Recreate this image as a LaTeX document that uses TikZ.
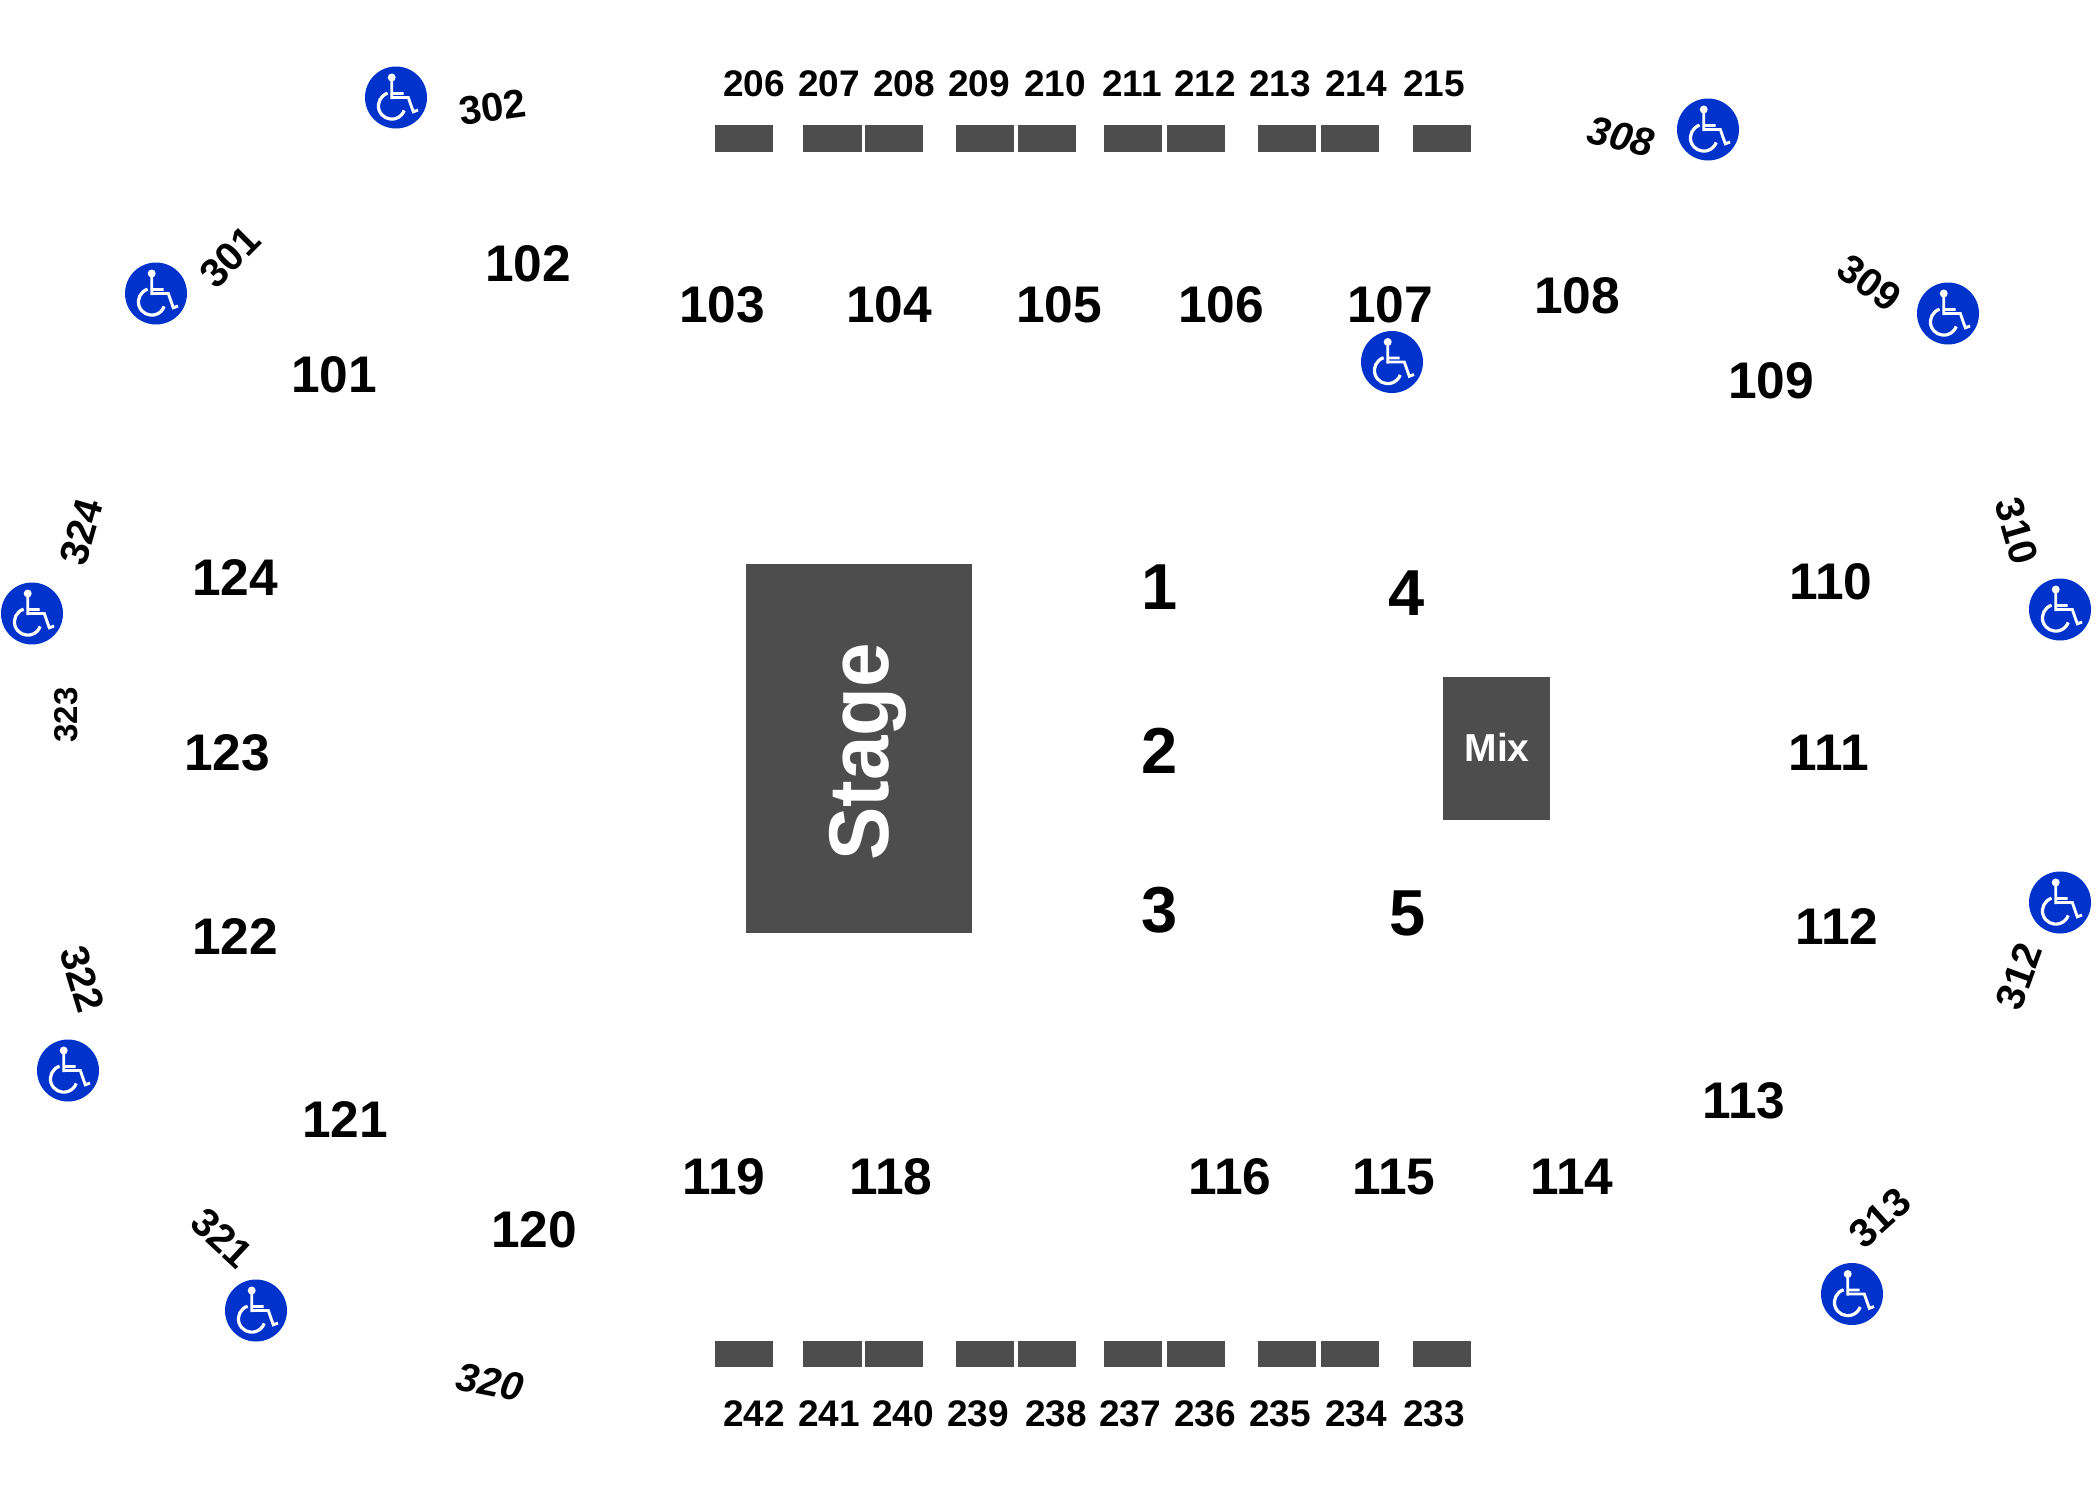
\documentclass[tikz,border=0pt]{standalone}
\usepackage{fontspec}
\setmainfont{Liberation Sans}
\definecolor{hall}{HTML}{4D4D4D}
\definecolor{access}{HTML}{0033CC}
\newcommand{\fs}[1]{\fontsize{#1}{#1}\selectfont\bfseries}
\tikzset{
  x=1pt,y=1pt,
  txt/.style={inner sep=0pt,outer sep=0pt,text=black},
  big/.style={txt,font=\fs{51.5}},
  tier/.style={txt,font=\fs{37}},
  upper/.style={txt,font=\fs{40}},
  slant/.style={txt,font=\fs{40}\itshape},
  zone/.style={txt,font=\fs{65}},
  block/.style={fill=hall,draw=none},
  wheelchair/.pic={
    \node[circle,fill=access,minimum size=62pt,inner sep=0pt,draw=none] (-c) at (0,0) {};
    \fill[white] (-4.3pt,20pt) circle[radius=4pt];
    \draw[white,line width=2.9pt] (-4.3pt,20pt) -- (-4.3pt,-1.5pt)
       (-4.3pt,4pt) -- (7.5pt,4pt)
       (-5.7pt,0pt) -- (12.3pt,0pt) -- (17.3pt,-14.3pt) -- (22pt,-12.5pt);
    \draw[white,line width=3.2pt] (-8.4pt,4.3pt) arc[start angle=108,delta angle=232,radius=13.3pt];
  }
}
\begin{document}
\begin{tikzpicture}
\useasboundingbox (0,0) rectangle (2100,-1488);
\fill[white] (0,0) rectangle (2100,-1488);
% blocks
\foreach \a/\b in {715/773,803/862,865/923,956/1014,1018/1076,1104/1162,1167/1225,1258/1316,1321/1379,1413/1471}{
  \fill[block] (\a,-125) rectangle (\b,-152);
  \fill[block] (\a,-1341) rectangle (\b,-1367);
}
\fill[block] (746,-564) rectangle (972,-933);
\fill[block] (1443,-677) rectangle (1550,-820);
\node[txt,text=white,font=\fs{80},rotate=90,anchor=base] (stage) at (888,-752) {\scalebox{1}[1.06]{Stage}};
\node[txt,text=white,font=\fs{39}] (mix) at (1497,-747) {Mix};
% tier
\foreach \t/\x in {206/754,207/829,208/904,209/979,210/1055,211/1132,212/1205,213/1280,214/1356,215/1434}
  \node[tier] (n\t) at (\x,-83.5) {\t};
\foreach \t/\x in {242/754,241/829,240/903,239/978,238/1056,237/1130,236/1205,235/1280,234/1356,233/1434}
  \node[tier] (n\t) at (\x,-1414) {\t};
% lower
\foreach \t/\x/\y in {101/334/375,102/528/264,103/722/305,104/889/305,105/1059/305,106/1221/305,107/1390/305,108/1577/296,109/1771/381,110/1831/582,111/1829/753,112/1837/927,113/1744/1101,114/1572/1177,115/1394/1177,116/1230/1177,118/891/1177,119/724/1177,120/534/1230,121/345/1120,122/235/937,123/227/753,124/235/578}
  \node[big] (n\t) at (\x,-\y) {\t};
% zones
\foreach \t/\x/\y in {1/1160/587,2/1160/751,3/1160/910,4/1407/593,5/1408/913}
  \node[zone] (z\t) at (\x,-\y) {\t};
% upper
\node[upper,rotate=8] (n302) at (493,-107) {302};
\node[upper,rotate=45] (n301) at (230,-257) {301};
\node[upper,rotate=74] (n324) at (81,-532) {324};
\node[txt,font=\fs{33},rotate=90] (n323) at (66,-715) {323};
\node[upper,rotate=-73] (n322) at (82,-979) {322};
\node[upper,rotate=-43] (n321) at (222,-1238) {321};
\node[slant,rotate=-11] (n320) at (490,-1382) {320};
\node[slant,rotate=-13] (n308) at (1621,-137) {308};
\node[upper,rotate=-36] (n309) at (1870,-283) {309};
\node[upper,rotate=-74] (n310) at (2017,-531) {310};
\node[upper,rotate=70] (n312) at (2019,-976) {312};
\node[upper,rotate=42] (n313) at (1880,-1218) {313};
% icons
\foreach \n/\x/\y in {a/396/97.5,b/156/293.5,c/32/613.5,d/68/1070.5,e/256/1310.5,f/1852/1294,g/2060/902.5,h/2060/609.5,i/1948/313.5,j/1708/129.5,k/1392/362}
  \pic (ic\n) at (\x,-\y) {wheelchair};
\end{tikzpicture}
\end{document}
